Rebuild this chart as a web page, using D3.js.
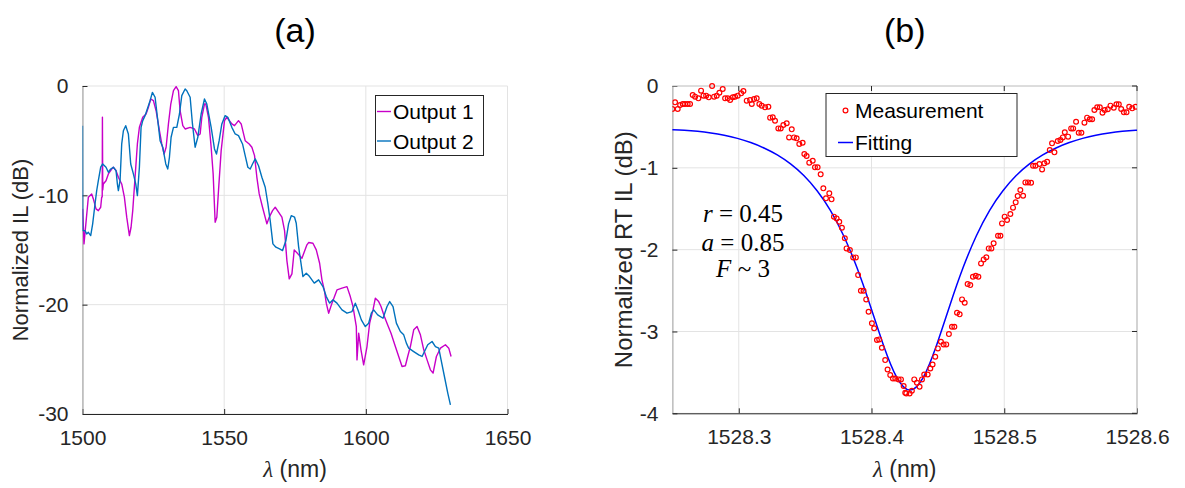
<!DOCTYPE html>
<html>
<head>
<meta charset="utf-8">
<script src="https://cdn.jsdelivr.net/npm/d3@7"></script>
<style>
  body { margin: 0; background: #fff; }
  svg { display: block; font-family: "Liberation Sans", Arial, sans-serif; }
</style>
</head>
<body>
<svg id="fig" width="1185" height="488"></svg>
<script>
// ---- data ----
// panel (a): [wavelength nm, normalized IL dB]
var output1 = [
  [1500.06,-11.24],[1500.53,-14.44],[1502.06,-10.17],[1503.24,-9.87],[1503.83,-10.33],[1504.77,-11.24],
  [1505.59,-11.40],[1506.42,-11.09],[1506.77,-10.17],[1506.96,-10.15],[1507.03,-2.86],[1507.14,-9.51],
  [1507.35,-8.96],[1508.30,-8.66],[1509.13,-8.04],[1510.31,-7.59],[1510.89,-7.43],[1511.84,-7.74],
  [1512.66,-8.35],[1513.84,-8.96],[1514.78,-10.17],[1515.61,-12.00],[1516.55,-13.68],[1517.14,-12.92],
  [1517.73,-11.40],[1518.55,-8.35],[1519.37,-5.30],[1520.08,-3.78],[1521.26,-2.86],[1522.44,-2.56],
  [1523.26,-1.95],[1524.09,-1.19],[1525.03,-1.34],[1525.97,-2.26],[1527.15,-4.09],[1527.98,-5.30],
  [1528.80,-6.22],[1529.51,-5.60],[1530.33,-3.47],[1531.16,-1.65],[1532.10,-0.43],[1533.04,-0.06],
  [1533.86,-0.43],[1534.45,-2.26],[1535.40,-3.63],[1536.22,-3.93],[1537.99,-3.78],[1539.52,-3.93],
  [1540.70,-4.54],[1541.52,-4.39],[1542.11,-2.86],[1543.05,-1.65],[1543.52,-1.65],[1544.46,-2.86],
  [1545.41,-5.60],[1546.11,-8.04],[1546.82,-12.46],[1547.41,-12.00],[1548.00,-9.57],[1548.94,-5.91],
  [1550.12,-3.17],[1550.94,-2.86],[1552.71,-3.47],[1553.65,-3.63],[1555.06,-3.17],[1556.01,-3.47],
  [1557.42,-5.00],[1558.83,-5.30],[1559.78,-5.60],[1560.72,-6.37],[1561.54,-8.35],[1562.37,-9.87],
  [1563.54,-11.09],[1565.08,-12.61],[1565.90,-12.00],[1567.08,-11.40],[1568.02,-11.09],[1569.20,-11.54],
  [1570.38,-12.00],[1571.32,-13.23],[1572.14,-15.97],[1572.97,-17.64],[1573.91,-17.18],[1574.73,-14.99],
  [1577.45,-15.75],[1579.21,-14.53],[1579.80,-14.32],[1581.33,-14.38],[1582.51,-14.99],[1583.69,-16.21],
  [1584.51,-17.73],[1585.34,-18.65],[1586.04,-19.86],[1586.87,-20.78],[1588.05,-19.86],[1589.81,-18.65],
  [1591.58,-18.49],[1593.35,-18.35],[1594.52,-19.26],[1595.47,-20.17],[1596.64,-22.00],[1596.88,-25.05],
  [1597.47,-22.61],[1598.29,-24.13],[1599.23,-25.50],[1600.41,-23.83],[1601.35,-21.69],[1602.53,-20.48],
  [1603.36,-19.41],[1604.53,-19.72],[1605.36,-20.17],[1606.54,-21.09],[1607.71,-21.85],[1608.89,-22.61],
  [1610.42,-23.83],[1611.60,-24.74],[1612.78,-25.66],[1613.96,-25.59],[1614.78,-24.74],[1615.72,-23.83],
  [1616.90,-22.30],[1618.08,-22.00],[1619.26,-22.76],[1620.44,-24.13],[1621.61,-25.05],[1622.79,-25.96],
  [1623.73,-26.26],[1624.91,-24.74],[1626.33,-23.98],[1628.09,-23.67],[1629.27,-23.98],[1630.09,-24.74]
];
var output2 = [
  [1500.00,-3.63],[1500.06,-13.23],[1500.88,-13.23],[1501.47,-13.53],[1502.06,-13.38],[1502.89,-13.68],
  [1503.59,-12.61],[1504.42,-10.79],[1505.01,-9.57],[1505.59,-8.66],[1506.42,-7.43],[1507.13,-7.13],
  [1508.30,-7.43],[1509.13,-7.89],[1509.95,-7.59],[1510.89,-7.43],[1511.84,-7.74],[1512.31,-8.96],
  [1512.66,-9.57],[1513.25,-8.66],[1513.84,-5.30],[1514.43,-4.09],[1515.25,-3.63],[1516.19,-4.39],
  [1517.02,-7.13],[1517.96,-8.04],[1518.79,-8.96],[1519.37,-10.03],[1520.08,-7.43],[1520.67,-3.78],
  [1521.26,-3.17],[1522.08,-2.71],[1522.67,-2.26],[1523.85,-1.34],[1524.67,-0.58],[1525.62,-1.03],
  [1526.44,-2.86],[1527.39,-5.00],[1528.33,-5.60],[1529.39,-7.13],[1530.09,-7.59],[1530.68,-6.52],
  [1531.27,-4.69],[1532.10,-3.78],[1533.28,-3.78],[1534.22,-2.56],[1535.04,-0.88],[1536.22,-0.27],
  [1536.81,-0.43],[1537.99,-1.03],[1538.81,-3.47],[1539.75,-5.60],[1540.70,-4.69],[1541.87,-2.56],
  [1543.05,-1.19],[1543.88,-1.65],[1545.41,-3.78],[1546.58,-5.76],[1547.29,-6.22],[1548.23,-5.00],
  [1549.18,-3.47],[1550.35,-2.71],[1551.30,-2.86],[1552.71,-3.78],[1553.89,-4.39],[1555.06,-4.54],
  [1556.48,-5.30],[1557.42,-6.37],[1558.36,-7.43],[1559.19,-7.59],[1560.01,-7.13],[1560.95,-6.67],
  [1562.13,-7.29],[1563.31,-8.35],[1564.49,-9.26],[1565.43,-10.79],[1566.25,-12.31],[1567.20,-14.44],
  [1568.26,-14.74],[1569.55,-14.90],[1570.61,-15.05],[1571.79,-14.14],[1572.73,-12.61],[1573.68,-11.86],
  [1574.85,-12.00],[1575.44,-12.55],[1576.27,-14.69],[1577.80,-17.43],[1578.98,-17.12],[1580.15,-17.43],
  [1581.80,-18.03],[1583.33,-17.73],[1584.87,-18.35],[1586.04,-19.26],[1587.22,-19.86],[1588.40,-19.56],
  [1589.81,-19.86],[1591.58,-20.48],[1593.35,-20.78],[1595.11,-20.63],[1596.29,-19.86],[1597.23,-20.48],
  [1598.41,-21.39],[1599.82,-22.00],[1601.00,-21.69],[1601.94,-20.78],[1602.77,-20.48],[1604.18,-20.93],
  [1606.07,-21.24],[1607.48,-20.17],[1608.42,-19.72],[1609.60,-20.17],[1610.78,-21.69],[1612.19,-22.46],
  [1613.37,-22.76],[1614.31,-23.52],[1615.13,-23.98],[1616.90,-24.29],[1618.67,-24.59],[1619.85,-24.74],
  [1621.85,-23.67],[1623.38,-23.37],[1624.56,-23.83],[1625.74,-23.98],[1626.56,-25.05],[1627.74,-26.57],
  [1628.92,-28.09],[1629.86,-29.16]
];

// panel (b): measured round-trip IL, [wavelength nm, dB]
var measurement = [
  [1528.2500,-0.281],[1528.2520,-0.200],[1528.2540,-0.281],[1528.2558,-0.232],[1528.2578,-0.220],[1528.2595,-0.220],
  [1528.2615,-0.220],[1528.2633,-0.220],[1528.2653,-0.110],[1528.2671,-0.130],[1528.2696,-0.151],[1528.2716,-0.057],
  [1528.2734,-0.118],[1528.2754,-0.118],[1528.2774,-0.139],[1528.2799,0.000],[1528.2814,-0.130],[1528.2834,-0.118],
  [1528.2854,-0.082],[1528.2879,-0.037],[1528.2897,-0.151],[1528.2917,-0.151],[1528.2935,-0.171],[1528.2955,-0.139],
  [1528.2972,-0.130],[1528.2992,-0.118],[1528.3018,-0.090],[1528.3035,-0.061],[1528.3060,-0.179],[1528.3085,-0.171],
  [1528.3098,-0.220],[1528.3115,-0.159],[1528.3135,-0.151],[1528.3155,-0.220],[1528.3173,-0.240],[1528.3198,-0.261],
  [1528.3223,-0.253],[1528.3236,-0.387],[1528.3256,-0.383],[1528.3273,-0.424],[1528.3298,-0.518],[1528.3316,-0.518],
  [1528.3336,-0.477],[1528.3361,-0.456],[1528.3379,-0.628],[1528.3399,-0.530],[1528.3416,-0.628],[1528.3436,-0.640],
  [1528.3456,-0.709],[1528.3481,-0.693],[1528.3494,-0.831],[1528.3511,-0.856],[1528.3531,-0.937],[1528.3557,-0.913],
  [1528.3574,-0.994],[1528.3594,-0.994],[1528.3617,-1.080],[1528.3637,-1.251],[1528.3657,-1.373],[1528.3682,-1.312],
  [1528.3699,-1.385],[1528.3717,-1.597],[1528.3737,-1.618],[1528.3757,-1.659],[1528.3777,-1.732],[1528.3799,-1.862],
  [1528.3812,-1.985],[1528.3837,-2.005],[1528.3862,-2.095],[1528.3882,-2.095],[1528.3899,-2.311],[1528.3920,-2.502],
  [1528.3940,-2.502],[1528.3960,-2.608],[1528.3978,-2.759],[1528.4003,-2.901],[1528.4020,-2.962],[1528.4041,-3.105],
  [1528.4058,-3.097],[1528.4078,-3.199],[1528.4103,-3.350],[1528.4121,-3.464],[1528.4141,-3.533],[1528.4161,-3.574],
  [1528.4179,-3.574],[1528.4204,-3.586],[1528.4222,-3.586],[1528.4242,-3.667],[1528.4254,-3.749],[1528.4262,-3.757],
  [1528.4287,-3.757],[1528.4304,-3.725],[1528.4322,-3.586],[1528.4342,-3.627],[1528.4362,-3.676],[1528.4380,-3.586],
  [1528.4397,-3.525],[1528.4423,-3.525],[1528.4443,-3.452],[1528.4460,-3.403],[1528.4480,-3.309],[1528.4500,-3.207],
  [1528.4523,-3.126],[1528.4543,-3.158],[1528.4563,-3.158],[1528.4583,-3.032],[1528.4606,-2.942],[1528.4624,-2.942],
  [1528.4644,-2.771],[1528.4664,-2.791],[1528.4682,-2.608],[1528.4702,-2.649],[1528.4724,-2.421],[1528.4744,-2.433],
  [1528.4764,-2.331],[1528.4785,-2.319],[1528.4805,-2.331],[1528.4825,-2.168],[1528.4845,-2.119],[1528.4865,-2.094],
  [1528.4883,-1.985],[1528.4903,-1.985],[1528.4920,-1.923],[1528.4953,-1.830],[1528.4971,-1.830],[1528.4983,-1.679],
  [1528.5003,-1.597],[1528.5021,-1.638],[1528.5046,-1.565],[1528.5066,-1.487],[1528.5086,-1.422],[1528.5101,-1.345],
  [1528.5121,-1.271],[1528.5142,-1.341],[1528.5159,-1.178],[1528.5179,-1.178],[1528.5202,-1.182],[1528.5217,-0.974],
  [1528.5235,-0.974],[1528.5265,-0.954],[1528.5285,-1.019],[1528.5302,-0.945],[1528.5323,-0.925],[1528.5343,-0.782],
  [1528.5360,-0.701],[1528.5378,-0.811],[1528.5403,-0.672],[1528.5423,-0.660],[1528.5441,-0.628],[1528.5456,-0.566],
  [1528.5481,-0.619],[1528.5504,-0.518],[1528.5519,-0.518],[1528.5541,-0.436],[1528.5561,-0.571],[1528.5581,-0.571],
  [1528.5604,-0.448],[1528.5624,-0.387],[1528.5644,-0.407],[1528.5662,-0.407],[1528.5679,-0.293],[1528.5700,-0.261],
  [1528.5720,-0.261],[1528.5740,-0.326],[1528.5757,-0.293],[1528.5780,-0.285],[1528.5800,-0.240],[1528.5825,-0.265],
  [1528.5845,-0.224],[1528.5863,-0.224],[1528.5881,-0.281],[1528.5901,-0.322],[1528.5921,-0.322],[1528.5941,-0.253],
  [1528.5964,-0.273],[1528.5989,-0.253]
];
// panel (b): fitted curve, [wavelength nm, dB]
var fitting = [
  [1528.249,-0.535],[1528.259,-0.540],[1528.269,-0.552],[1528.279,-0.572],[1528.289,-0.600],[1528.299,-0.638],
  [1528.309,-0.689],[1528.319,-0.754],[1528.329,-0.838],[1528.339,-0.947],[1528.349,-1.087],[1528.359,-1.272],
  [1528.369,-1.507],[1528.379,-1.816],[1528.389,-2.206],[1528.399,-2.676],[1528.409,-3.181],[1528.419,-3.602],
  [1528.429,-3.772],[1528.439,-3.602],[1528.449,-3.181],[1528.459,-2.676],[1528.469,-2.206],[1528.479,-1.816],
  [1528.489,-1.507],[1528.499,-1.272],[1528.509,-1.087],[1528.519,-0.947],[1528.529,-0.838],[1528.539,-0.754],
  [1528.549,-0.689],[1528.559,-0.638],[1528.569,-0.600],[1528.579,-0.572],[1528.589,-0.552],[1528.599,-0.540],
  [1528.609,-0.535]
];

var ticksA_x = [1500, 1550, 1600, 1650],
    ticksA_y = [-30, -20, -10, 0],
    ticksB_x = [1528.3, 1528.4, 1528.5, 1528.6],
    ticksB_y = [-4, -3, -2, -1, 0];

var fitParams = [["r", "0.45", "="], ["a", "0.85", "="], ["F", "3", "~"]];

// ---- drawing ----
var svg = d3.select("#fig");
var gridColor = "#e3e3e3", axisColor = "#262626";

function panel(opt) {
  var x = d3.scaleLinear().domain(opt.xDomain).range([opt.left, opt.right]);
  var y = d3.scaleLinear().domain(opt.yDomain).range([opt.bottom, opt.top]);
  var g = svg.append("g");

  // grid
  g.selectAll(".vg").data(opt.xTicks).enter().append("line")
    .attr("x1", function(d) { return x(d); }).attr("x2", function(d) { return x(d); })
    .attr("y1", opt.top).attr("y2", opt.bottom)
    .attr("stroke", gridColor).attr("stroke-width", 1);
  g.selectAll(".hg").data(opt.yTicks).enter().append("line")
    .attr("y1", function(d) { return y(d); }).attr("y2", function(d) { return y(d); })
    .attr("x1", opt.left).attr("x2", opt.right)
    .attr("stroke", gridColor).attr("stroke-width", 1);

  // axes (MATLAB style, ticks inside)
  var xAx = g.append("g").attr("transform", "translate(0," + opt.bottom + ")")
    .call(d3.axisBottom(x).tickValues(opt.xTicks).tickSizeInner(-5).tickSizeOuter(0)
      .tickPadding(16).tickFormat(opt.xFmt));
  var yAx = g.append("g").attr("transform", "translate(" + opt.left + ",0)")
    .call(d3.axisLeft(y).tickValues(opt.yTicks).tickSizeInner(-5).tickSizeOuter(0)
      .tickPadding(14).tickFormat(function(d) { return String(d).replace("\u2212", "-"); }));
  [xAx, yAx].forEach(function(a) {
    a.selectAll("text").attr("fill", axisColor).style("font-size", "21px")
      .style("font-family", "'Liberation Sans', Arial, sans-serif");
    a.selectAll(".tick line").attr("stroke", axisColor);
  });
  xAx.select(".domain").attr("stroke", axisColor);
  yAx.select(".domain").attr("stroke", "#9a9a9a");
  xAx.selectAll("text").attr("dy", "0.71em");

  if (opt.box) {
    g.append("line").attr("x1", opt.right).attr("x2", opt.right).attr("y1", opt.top).attr("y2", opt.bottom)
      .attr("stroke", "#b5b5b5");
    g.append("line").attr("x1", opt.left).attr("x2", opt.right).attr("y1", opt.top).attr("y2", opt.top)
      .attr("stroke", "#c8c8c8");
    g.selectAll(".rt").data(opt.yTicks).enter().append("line")
      .attr("x1", opt.right - 5).attr("x2", opt.right)
      .attr("y1", function(d) { return y(d); }).attr("y2", function(d) { return y(d); })
      .attr("stroke", axisColor);
    g.selectAll(".tt").data(opt.xTicks).enter().append("line")
      .attr("y1", opt.top).attr("y2", opt.top + 5)
      .attr("x1", function(d) { return x(d); }).attr("x2", function(d) { return x(d); })
      .attr("stroke", axisColor);
  }

  // labels
  svg.append("text").attr("x", (opt.left + opt.right) / 2).attr("y", 42)
    .attr("text-anchor", "middle").style("font-size", "34px").attr("fill", "#000")
    .text(opt.title);
  var xl = svg.append("text").attr("x", (opt.left + opt.right) / 2).attr("y", 477)
    .attr("text-anchor", "middle").style("font-size", "23px").attr("fill", axisColor);
  xl.append("tspan").style("font-family", "'Liberation Serif', serif").style("font-style", "italic").text("\u03bb");
  xl.append("tspan").text(" (nm)");
  svg.append("text")
    .attr("transform", "translate(" + opt.ylabelX + "," + (opt.top + opt.bottom) / 2 + ") rotate(-90)")
    .attr("text-anchor", "middle").style("font-size", opt.ylabelSize).attr("fill", axisColor)
    .text(opt.ylabel);

  var clipId = "clip" + opt.title.replace(/\W/g, "");
  svg.append("clipPath").attr("id", clipId).append("rect")
    .attr("x", opt.left).attr("y", opt.top - 3).attr("width", opt.right - opt.left)
    .attr("height", opt.bottom - opt.top + 3);
  var plot = svg.append("g").attr("clip-path", "url(#" + clipId + ")");
  return { x: x, y: y, plot: plot };
}

// (a)
var pa = panel({
  title: "(a)", xDomain: [1500, 1650], yDomain: [-30, 0],
  left: 82.5, right: 507.5, top: 86, bottom: 414,
  xTicks: ticksA_x, yTicks: ticksA_y, xFmt: function(d) { return d; },
  ylabel: "Normalized IL (dB)", ylabelX: 28, ylabelSize: "22px", box: false
});
var lineA = d3.line().x(function(d) { return pa.x(d[0]); }).y(function(d) { return pa.y(d[1]); });
pa.plot.append("path").datum(output1).attr("d", lineA)
  .attr("fill", "none").attr("stroke", "#c800c8").attr("stroke-width", 1.4).attr("stroke-linejoin", "round");
pa.plot.append("path").datum(output2).attr("d", lineA)
  .attr("fill", "none").attr("stroke", "#0072bd").attr("stroke-width", 1.4).attr("stroke-linejoin", "round");

// legend (a)
var legA = svg.append("g");
legA.append("rect").attr("x", 375.5).attr("y", 95.5).attr("width", 108).attr("height", 60)
  .attr("fill", "#fff").attr("stroke", axisColor).attr("stroke-width", 1);
[["Output 1", "#c800c8"], ["Output 2", "#0072bd"]].forEach(function(e, i) {
  var cy = 111.5 + i * 29.5;
  legA.append("line").attr("x1", 377).attr("x2", 391).attr("y1", cy).attr("y2", cy)
    .attr("stroke", e[1]).attr("stroke-width", 1.4);
  legA.append("text").attr("x", 393).attr("y", cy).attr("dy", "0.36em")
    .style("font-size", "21px").attr("fill", "#000").text(e[0]);
});

// (b)
var pb = panel({
  title: "(b)", xDomain: [1528.25, 1528.6], yDomain: [-4, 0],
  left: 672.4, right: 1137, top: 86, bottom: 413.3,
  xTicks: ticksB_x, yTicks: ticksB_y, xFmt: d3.format(".1f"),
  ylabel: "Normalized RT IL (dB)", ylabelX: 632, ylabelSize: "24px", box: true
});
var lineB = d3.line().x(function(d) { return pb.x(d[0]); }).y(function(d) { return pb.y(d[1]); })
  .curve(d3.curveBasis);
pb.plot.append("path").datum(fitting).attr("d", lineB)
  .attr("fill", "none").attr("stroke", "#0000ff").attr("stroke-width", 1.5);
pb.plot.selectAll(".m").data(measurement).enter().append("circle")
  .attr("cx", function(d) { return pb.x(d[0]); }).attr("cy", function(d) { return pb.y(d[1]); })
  .attr("r", 2.4).attr("fill", "none").attr("stroke", "#ff0000").attr("stroke-width", 1.2);

// legend (b)
var legB = svg.append("g");
legB.append("rect").attr("x", 826).attr("y", 93.5).attr("width", 191).attr("height", 63)
  .attr("fill", "#fff").attr("stroke", axisColor).attr("stroke-width", 1);
legB.append("circle").attr("cx", 845.5).attr("cy", 110.5).attr("r", 2.4)
  .attr("fill", "none").attr("stroke", "#ff0000").attr("stroke-width", 1.2);
legB.append("text").attr("x", 855).attr("y", 110.5).attr("dy", "0.36em")
  .style("font-size", "21px").attr("fill", "#000").text("Measurement");
legB.append("line").attr("x1", 838).attr("x2", 853).attr("y1", 142.5).attr("y2", 142.5)
  .attr("stroke", "#0000ff").attr("stroke-width", 1.5);
legB.append("text").attr("x", 855).attr("y", 142.5).attr("dy", "0.36em")
  .style("font-size", "21px").attr("fill", "#000").text("Fitting");

// fit parameters annotation
fitParams.forEach(function(p, i) {
  var t = svg.append("text").attr("x", 743).attr("y", 222 + i * 29 - (i == 2 ? 3 : 0))
    .attr("text-anchor", "middle").style("font-family", "'Liberation Serif', 'Times New Roman', serif")
    .style("font-size", "25px").attr("fill", "#000");
  t.append("tspan").style("font-style", "italic").text(p[0]);
  t.append("tspan").text(" " + p[2] + " " + p[1]);
});
</script>
</body>
</html>
